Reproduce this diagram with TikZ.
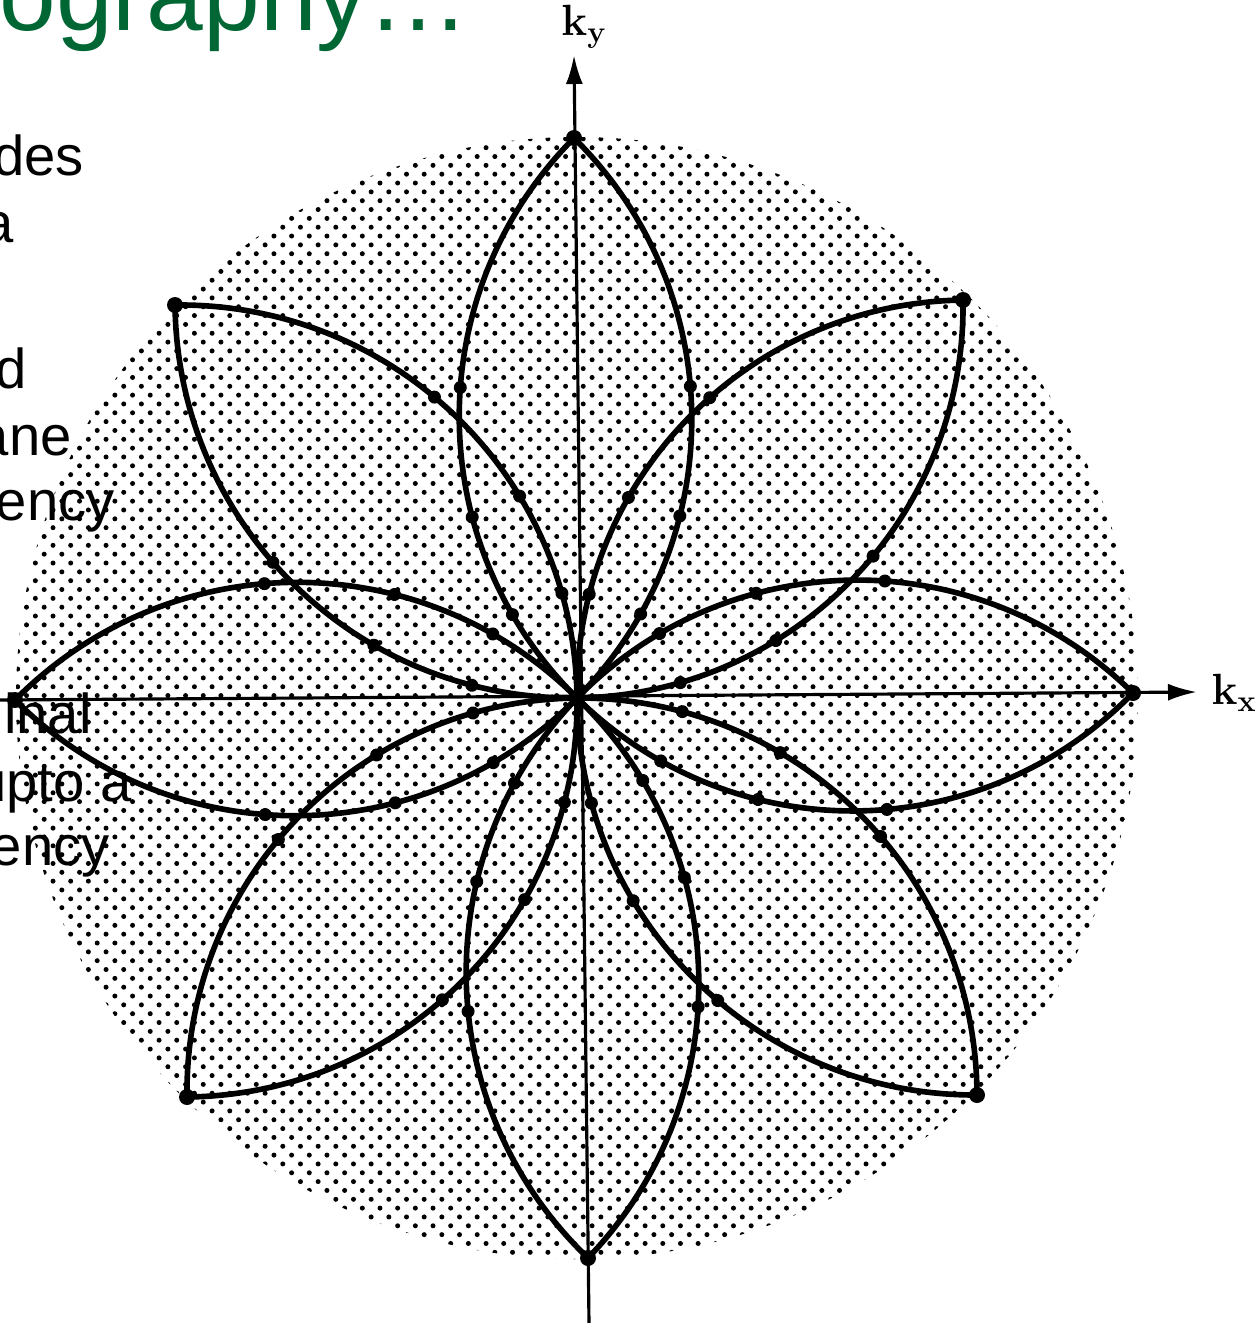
\documentclass[tikz,border=0pt]{standalone}
\usepackage{fontspec}
\usepackage{tikz}
\usetikzlibrary{arrows.meta, patterns.meta, decorations.markings}
\newfontfamily\slidefont{Liberation Sans}
\definecolor{TG}{RGB}{0,102,51}

\begin{document}
\begin{tikzpicture}[x=0.02cm, y=-0.02cm,
  stipple/.style={pattern={Dots[distance=0.25cm, angle=45, radius=0.05cm]},
                  pattern color=black},
  petal/.style={draw=black, line width=3.2pt, line join=round,
    postaction={decorate, decoration={markings,
      mark=at position 0.085 with {\fill circle[radius=6.5];},
      mark=at position 0.17 with {\fill circle[radius=6.5];},
      mark=at position 0.275 with {\fill circle[radius=6.5];},
      mark=at position 0.725 with {\fill circle[radius=6.5];},
      mark=at position 0.83 with {\fill circle[radius=6.5];},
      mark=at position 0.915 with {\fill circle[radius=6.5];}}}},
  axis/.style={draw=black, line width=1.8pt,
               -{Latex[length=0.58cm, width=0.34cm]}},
  lab/.style={font=\fontsize{25}{30}\selectfont\boldmath, inner sep=0},
  body/.style={font=\slidefont\fontsize{32}{38}\selectfont,
               inner sep=0, anchor=base east},
  title/.style={font=\slidefont\fontsize{58}{70}\selectfont, text=TG,
                inner sep=0, anchor=base east}
]
\useasboundingbox (0,0) rectangle (1256,1323);
\clip (0,0) rectangle (1256,1323);

% centre and petal tips
\coordinate (O) at (577,698);
\coordinate (T0) at (1133,693);
\coordinate (T1) at (963,300);
\coordinate (T2) at (574,138);
\coordinate (T3) at (175,305);
\coordinate (T4) at (15,700);
\coordinate (T5) at (187,1097);
\coordinate (T6) at (588,1258);
\coordinate (T7) at (977,1095);

% stippled disk
\fill[stipple] (O) circle[radius=561];

% axes
\coordinate (kxs) at (0,700);
\coordinate (kxe) at (1197,692);
\coordinate (kys) at (589,1323);
\coordinate (kye) at (574,55);
\draw[axis] (kxs) -- (kxe);
\draw[axis] (kys) -- (kye);
\node[lab] (kx) at (1234,693) {$\mathbf{k}_{\mathbf{x}}$};
\node[lab] (ky) at (584,27) {$\mathbf{k}_{\mathbf{y}}$};

% petals
\foreach \i in {0,...,7} {
  \draw[petal] (O) to[bend left=45] (T\i) to[bend left=45] (O);
  \fill (T\i) circle[radius=8];
}

% slide text
\node[title] (ttl) at (470,30) {ography…};
\node[body] (l1) at (84,175) {des};
\node[body] (l2) at (14,242) {a};
\node[body] (l3) at (27,388) {d};
\node[body] (l4) at (72,455) {ane};
\node[body] (l5) at (115,520) {ency};
\node[body] (l6) at (92,733) {ginal};
\node[body] (l7) at (132,801) {upto a};
\node[body] (l8) at (110,865) {ency};
\end{tikzpicture}
\end{document}
